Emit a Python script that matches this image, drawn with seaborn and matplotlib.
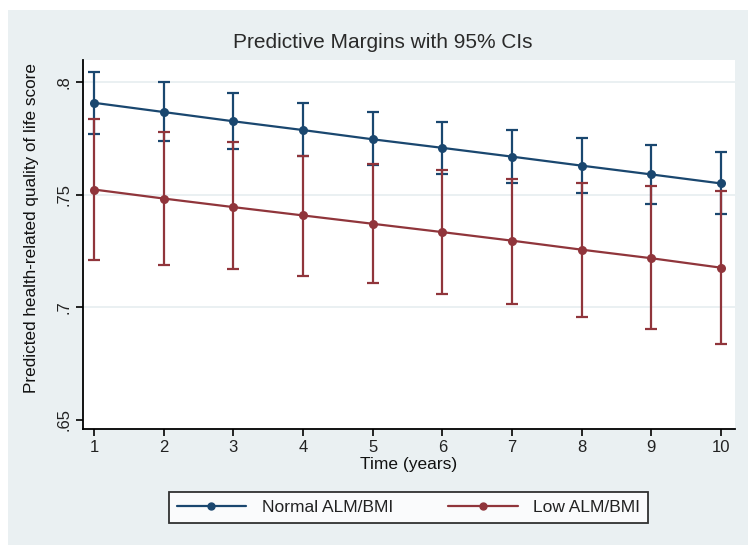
import matplotlib
matplotlib.use("Agg")
import matplotlib.pyplot as plt
from matplotlib.patches import Rectangle
from matplotlib.lines import Line2D
import seaborn as sns
import pandas as pd

# ---- data ----
time = [1, 2, 3, 4, 5, 6, 7, 8, 9, 10]
normal_margin = [0.7908, 0.7867, 0.7826, 0.7787, 0.7746, 0.7708, 0.7669, 0.7629, 0.7590, 0.7550]
normal_lower = [0.7769, 0.7738, 0.7703, 0.7670, 0.7632, 0.7592, 0.7553, 0.7507, 0.7460, 0.7414]
normal_upper = [0.8046, 0.7999, 0.7953, 0.7906, 0.7866, 0.7823, 0.7786, 0.7753, 0.7721, 0.7690]
low_margin = [0.7523, 0.7483, 0.7445, 0.7408, 0.7371, 0.7334, 0.7296, 0.7256, 0.7218, 0.7176]
low_lower = [0.7211, 0.7189, 0.7170, 0.7139, 0.7107, 0.7060, 0.7014, 0.6957, 0.6902, 0.6837]
low_upper = [0.7834, 0.7779, 0.7732, 0.7672, 0.7637, 0.7611, 0.7571, 0.7554, 0.7537, 0.7516]
groups = ["Normal ALM/BMI", "Low ALM/BMI"]
yticks = [0.65, 0.70, 0.75, 0.80]
ytick_labels = [".65", ".7", ".75", ".8"]
title = "Predictive Margins with 95% CIs"
xlabel = "Time (years)"
ylabel = "Predicted health-related quality of life score"

colors = {"Normal ALM/BMI": "#1A476F", "Low ALM/BMI": "#90353B"}

df = pd.DataFrame({
    "time": time + time,
    "margin": normal_margin + low_margin,
    "lower": normal_lower + low_lower,
    "upper": normal_upper + low_upper,
    "group": [groups[0]] * len(time) + [groups[1]] * len(time),
})

sns.set_theme(style="white")
plt.rcParams["font.family"] = ["Liberation Sans", "DejaVu Sans"]

W, H = 748, 545
fig = plt.figure(figsize=(W / 100, H / 100), dpi=100)
fig.patch.set_facecolor("white")
fig.add_artist(Rectangle((8 / W, 0), (W - 8) / W, (H - 10) / H,
                         transform=fig.transFigure, facecolor="#EAF0F2",
                         edgecolor="none", zorder=0))

x0, x1, ytop, ybot = 83, 735, 60, 429
ax = fig.add_axes([x0 / W, (H - ybot) / H, (x1 - x0) / W, (ybot - ytop) / H])
ax.set_facecolor("white")

# grid lines
for yv in yticks[1:]:
    ax.axhline(yv, color="#E6EEF0", lw=1.2, zorder=0)

# confidence intervals
for g in groups:
    sub = df[df.group == g]
    ax.errorbar(sub.time, sub.margin,
                yerr=[sub.margin - sub.lower, sub.upper - sub.margin],
                fmt="none", ecolor=colors[g], elinewidth=1.6, capsize=4,
                capthick=1.6, zorder=2)

sns.lineplot(data=df, x="time", y="margin", hue="group", hue_order=groups,
             palette=colors, marker="o", markersize=6.5, markeredgewidth=0,
             linewidth=1.6, ax=ax, legend=False, zorder=3)

ax.set_xlim(0.842, 10.2)
ax.set_ylim(0.646, 0.8098)
ax.set_xticks(time)
ax.set_xticklabels([str(t) for t in time], fontsize=12)
ax.set_yticks(yticks)
ax.set_yticklabels(ytick_labels, fontsize=12, rotation=90, va="center")
ax.tick_params(axis="both", direction="out", length=5, width=1.2,
               color="black", pad=3, left=True, bottom=True,
               labelcolor="#222222")

for s in ["top", "right"]:
    ax.spines[s].set_visible(False)
for s in ["left", "bottom"]:
    ax.spines[s].set_color("black")
    ax.spines[s].set_linewidth(1.3)

ax.set_xlabel(xlabel, fontsize=12.5, va="center", color="#111111")
ax.xaxis.set_label_coords(0.5, (ybot - 465) / (ybot - ytop))
ax.set_ylabel(ylabel, fontsize=12.3, va="center", color="#111111")
ax.yaxis.set_label_coords((32 - x0) / (x1 - x0), (ybot - 228) / (ybot - ytop))

fig.text(383 / W, 1 - 42 / H, title, fontsize=15, ha="center", va="center",
         color="#2a2a2a")

handles = [Line2D([], [], color=colors[g], lw=1.6, marker="o", markersize=5)
           for g in groups]
leg = fig.legend(handles, groups, loc="center", ncol=2,
                 bbox_to_anchor=(408.5 / W, 1 - 507.5 / H),
                 fontsize=12.5, handlelength=4.0, columnspacing=3.2,
                 frameon=True, fancybox=False, edgecolor="black",
                 borderpad=0.45, handletextpad=0.9)
leg.get_frame().set_linewidth(1.3)
leg.get_frame().set_facecolor("white")
for t in leg.get_texts():
    t.set_color("#222222")

fig.savefig("out.png", dpi=100)
